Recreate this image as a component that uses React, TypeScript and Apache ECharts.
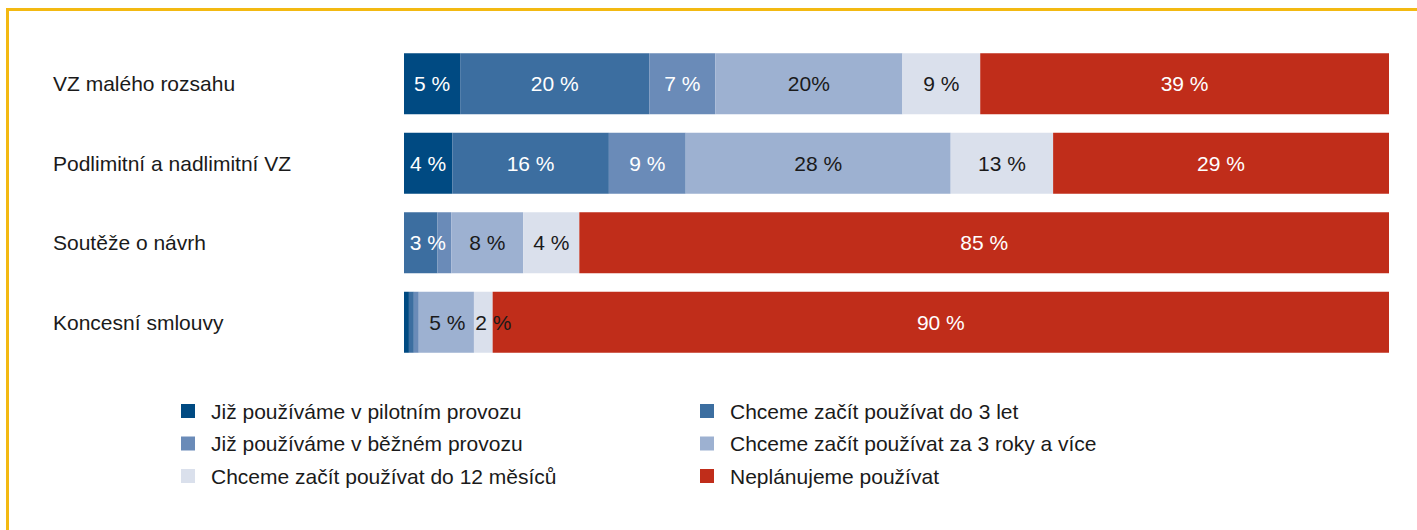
import React, { useEffect, useRef } from "react";
import * as echarts from "echarts";

const FONT = '"Liberation Sans", Arial, sans-serif';

const categories = [
  "VZ malého rozsahu",
  "Podlimitní a nadlimitní VZ",
  "Soutěže o návrh",
  "Koncesní smlouvy",
];

const seriesNames = [
  "Již používáme v pilotním provozu",
  "Chceme začít používat do 3 let",
  "Již používáme v běžném provozu",
  "Chceme začít používat za 3 roky a více",
  "Chceme začít používat do 12 měsíců",
  "Neplánujeme používat",
];

// bar lengths (share of the full bar, %)
const pilotValues = [5.7, 4.9, 0, 0.5];
const in3YearsValues = [19.2, 15.9, 3.4, 0.5];
const regularValues = [6.7, 7.8, 1.4, 0.5];
const after3YearsValues = [19.0, 26.9, 7.3, 5.6];
const in12MonthsValues = [7.9, 10.4, 5.7, 1.9];
const notPlannedValues = [41.5, 34.1, 82.2, 91.0];

// printed labels
const pilotLabels = ["5 %", "4 %", "", ""];
const in3YearsLabels = ["20 %", "16 %", "3 %", ""];
const regularLabels = ["7 %", "9 %", "", ""];
const after3YearsLabels = ["20%", "28 %", "8 %", "5 %"];
const in12MonthsLabels = ["9 %", "13 %", "4 %", "2 %"];
const notPlannedLabels = ["39 %", "29 %", "85 %", "90 %"];

const colors = ["#004a82", "#3c6ea0", "#6a8bb8", "#9db1d1", "#dae0ec", "#c02d1a"];
const labelColors = ["#ffffff", "#ffffff", "#ffffff", "#1a1a1a", "#1a1a1a", "#ffffff"];

const allValues = [pilotValues, in3YearsValues, regularValues, after3YearsValues, in12MonthsValues, notPlannedValues];
const allLabels = [pilotLabels, in3YearsLabels, regularLabels, after3YearsLabels, in12MonthsLabels, notPlannedLabels];

// label nudges [seriesIndex, dataIndex, dx]
const labelNudges: [number, number, number][] = [
  [1, 2, 7],
  [4, 3, 10],
  [3, 3, 1],
];

export default function App() {
  const ref = useRef<HTMLDivElement>(null);
  useEffect(() => {
    document.body.style.margin = "0";
    if (!ref.current) return;
    const chart = echarts.init(ref.current, null, { renderer: "svg" });
    const series = seriesNames.map((name, si) => ({
      name,
      type: "bar",
      stack: "total",
      barWidth: 61,
      itemStyle: { color: colors[si] },
      label: {
        show: true,
        position: "inside",
        color: labelColors[si],
        fontSize: 21,
        fontFamily: FONT,
        formatter: (p: any) => allLabels[si][p.dataIndex],
      },
      data: allValues[si].map((v, di) => {
        const n = labelNudges.find((x) => x[0] === si && x[1] === di);
        return n ? { value: v, label: { offset: [n[2], 0] } } : { value: v };
      }),
    }));
    const legendBase = {
      orient: "vertical",
      top: 395,
      itemWidth: 14,
      itemHeight: 14,
      itemGap: 10.5,
      icon: "rect",
      selectedMode: false,
      textStyle: {
        fontSize: 21,
        fontFamily: FONT,
        color: "#1a1a1a",
        lineHeight: 22,
        padding: [0, 0, 0, 11],
      },
    };
    chart.setOption({
      animation: false,
      backgroundColor: "#ffffff",
      grid: { left: 404, right: 28, top: 44, height: 318 },
      xAxis: { type: "value", min: 0, max: 100, show: false },
      yAxis: {
        type: "category",
        data: categories,
        inverse: true,
        axisLine: { show: false },
        axisTick: { show: false },
        splitLine: { show: false },
        axisLabel: {
          align: "left",
          margin: 351,
          fontSize: 21,
          fontFamily: FONT,
          color: "#1a1a1a",
        },
      },
      legend: [
        { ...legendBase, left: 176, data: [seriesNames[0], seriesNames[2], seriesNames[4]] },
        { ...legendBase, left: 695, data: [seriesNames[1], seriesNames[3], seriesNames[5]] },
      ],
      graphic: [
        {
          type: "rect",
          shape: { x: 7.5, y: 9.5, width: 1600, height: 800 },
          style: { fill: "none", stroke: "#f3b912", lineWidth: 3 },
          silent: true,
        },
      ],
      series,
    } as any);
    return () => chart.dispose();
  }, []);
  return <div ref={ref} style={{ width: 1417, height: 530 }} />;
}
